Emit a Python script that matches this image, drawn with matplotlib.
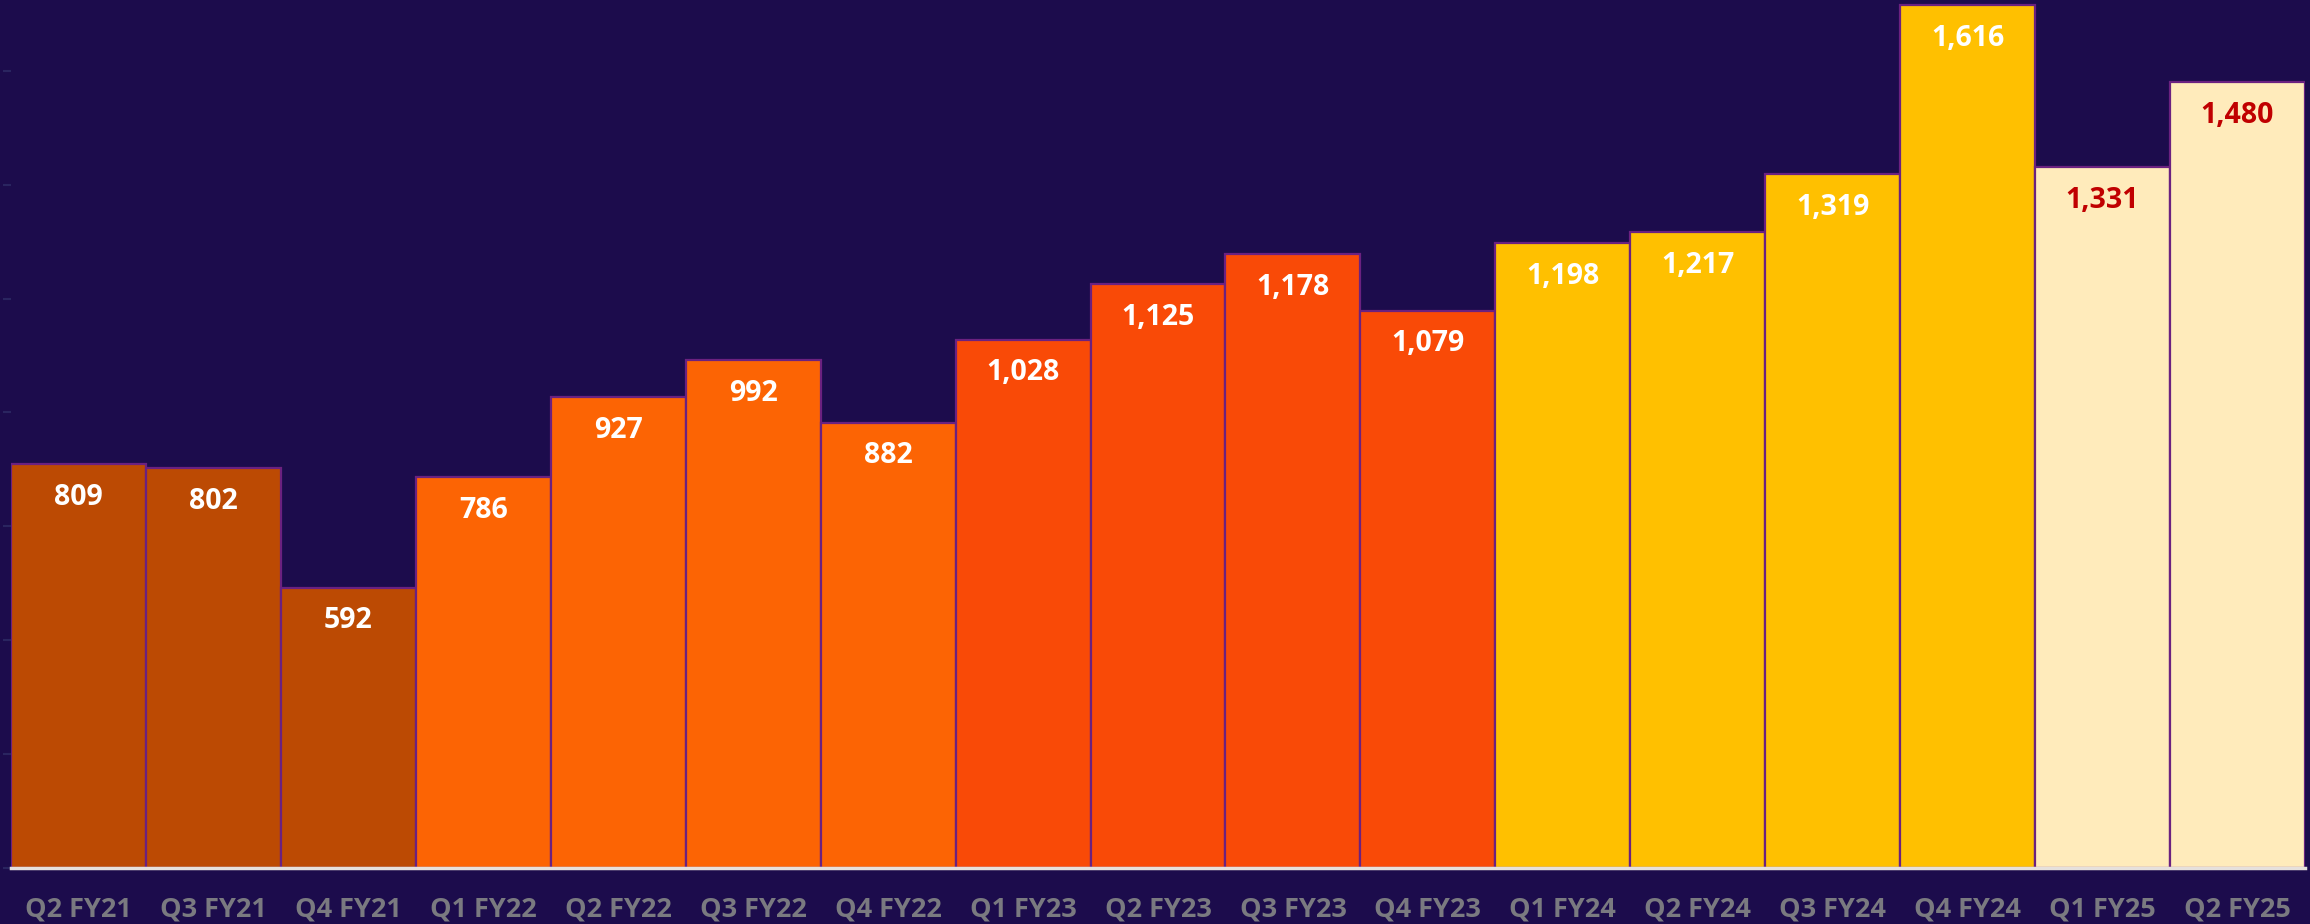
import matplotlib
matplotlib.use("Agg")
import matplotlib.pyplot as plt

categories = ["Q2 FY21", "Q3 FY21", "Q4 FY21", "Q1 FY22", "Q2 FY22", "Q3 FY22", "Q4 FY22",
              "Q1 FY23", "Q2 FY23", "Q3 FY23", "Q4 FY23", "Q1 FY24", "Q2 FY24", "Q3 FY24",
              "Q4 FY24", "Q1 FY25", "Q2 FY25"]
values = [809, 802, 592, 786, 927, 992, 882, 1028, 1125, 1178, 1079, 1198, 1217, 1319, 1616, 1331, 1480]
fiscal_years = ["FY21", "FY21", "FY21", "FY22", "FY22", "FY22", "FY22", "FY23", "FY23", "FY23", "FY23",
                "FY24", "FY24", "FY24", "FY24", "FY25", "FY25"]

year_colors = {"FY21": "#BC4A03", "FY22": "#FC6404", "FY23": "#F94A07", "FY24": "#FFC000", "FY25": "#FFEBBB"}
label_colors = {"FY21": "white", "FY22": "white", "FY23": "white", "FY24": "white", "FY25": "#C00000"}

bg = "#1C0C4C"
plt.rcParams['font.family'] = ['Open Sans', 'DejaVu Sans']

fig = plt.figure(figsize=(23.1, 9.24), dpi=100, facecolor=bg)
ax = fig.add_axes([11/2310, (924-867.5)/924, (2305-11)/2310, 867.5/924])
ax.set_facecolor(bg)

x = list(range(len(categories)))
bars = ax.bar(x, [v - 100 for v in values], bottom=100, width=1.0,
              color=[year_colors[f] for f in fiscal_years],
              edgecolor="#6B2180", linewidth=1.6, zorder=3)

for xi, v, f in zip(x, values, fiscal_years):
    ax.annotate(f"{v:,}", xy=(xi, v), xytext=(0, -24), textcoords="offset points",
                ha="center", va="center", fontsize=20.5, fontweight="bold",
                color=label_colors[f], zorder=4)

ax.set_xlim(-0.5, len(categories) - 0.5)
ax.set_ylim(100, 1625)
ax.set_xticks(x)
ax.set_xticklabels(categories, fontsize=19.5, fontweight="bold", color="#7A7A80")
ax.tick_params(axis="x", length=0, pad=21)
ax.set_yticks(range(100, 1625, 200))
ax.set_yticklabels([])
ax.tick_params(axis="y", length=6, width=1.5, color="#2A2560", direction="out")

for s in ["top", "right", "left"]:
    ax.spines[s].set_visible(False)
ax.spines["bottom"].set_color("#E6E0DC")
ax.spines["bottom"].set_linewidth(2.5)
ax.spines["bottom"].set_zorder(5)

fig.savefig("out.png", dpi=100, facecolor=bg)
